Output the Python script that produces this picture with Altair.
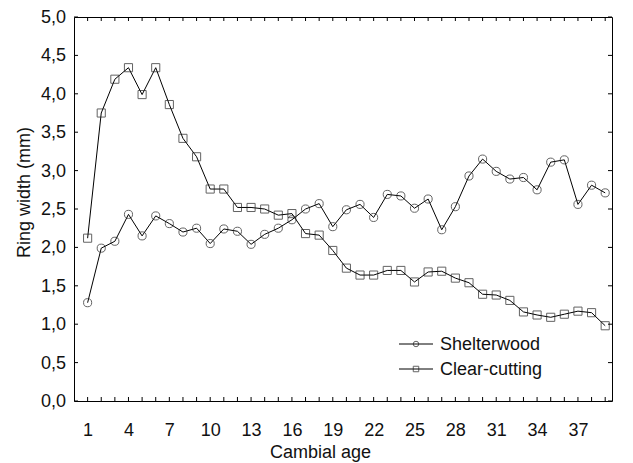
import altair as alt
import pandas as pd

# Mean ring width (mm) by cambial age for two silvicultural treatments
series_names = ["Shelterwood", "Clear-cutting"]
cambial_age = list(range(1, 40))
shelterwood = [1.28, 1.99, 2.08, 2.43, 2.15, 2.41, 2.31, 2.20, 2.25, 2.05,
               2.24, 2.21, 2.04, 2.17, 2.25, 2.36, 2.50, 2.57, 2.27, 2.49,
               2.56, 2.39, 2.69, 2.67, 2.51, 2.63, 2.23, 2.53, 2.93, 3.15,
               2.99, 2.89, 2.91, 2.75, 3.11, 3.14, 2.56, 2.81, 2.71]
clear_cutting = [2.12, 3.75, 4.19, 4.34, 3.99, 4.34, 3.86, 3.42, 3.18, 2.76,
                 2.76, 2.52, 2.52, 2.50, 2.42, 2.44, 2.18, 2.16, 1.96, 1.73,
                 1.64, 1.64, 1.70, 1.70, 1.55, 1.68, 1.69, 1.60, 1.54, 1.39,
                 1.38, 1.31, 1.16, 1.12, 1.09, 1.13, 1.17, 1.15, 0.98]

x_labels = list(range(1, 38, 3))
y_labels = [i * 0.5 for i in range(11)]
x_minor = list(range(1, 40))

W, H = 538, 384
FONT = "Liberation Sans"
INK = "#111111"

df = pd.DataFrame({
    "series": [series_names[0]] * len(cambial_age) + [series_names[1]] * len(cambial_age),
    "age": cambial_age + cambial_age,
    "width": shelterwood + clear_cutting,
})

x_scale = alt.Scale(domain=[0, 39.5], nice=False, zero=False)
y_scale = alt.Scale(domain=[0, 5], nice=False, zero=True)

x_enc = alt.X(
    "age:Q",
    scale=x_scale,
    axis=alt.Axis(
        values=x_labels, ticks=False, domain=False, grid=False,
        labelFontSize=18, labelPadding=20, labelColor=INK, labelOverlap=False,
        title="Cambial age", titleFontSize=18, titleFontWeight="normal",
        titleColor=INK, titleX=246, titleY=56, titleBaseline="alphabetic",
        titleAlign="center",
    ),
)
# Y tick labels are drawn as a text layer (decimal comma), the axis keeps the title
y_enc = alt.Y(
    "width:Q",
    scale=y_scale,
    axis=alt.Axis(
        labels=False, ticks=False, domain=False, grid=False,
        title="Ring width (mm)", titleFontSize=18, titleFontWeight="normal",
        titleColor=INK, titleAngle=270, titleX=-50, titleY=175,
        titleAlign="center", titleBaseline="middle",
    ),
)

base = alt.Chart(df)
lines = base.mark_line(color="black", strokeWidth=1).encode(
    x=x_enc, y=y_enc, detail="series:N"
)
points = base.mark_point(filled=False, size=66, strokeWidth=1, color="#222222").encode(
    x="age:Q",
    y="width:Q",
    shape=alt.Shape("series:N",
                    scale=alt.Scale(domain=series_names, range=["circle", "square"]),
                    legend=None),
)

# Inward-pointing tick marks on all four sides of the frame
xt = alt.Chart(pd.DataFrame({"age": x_minor}))
yt = alt.Chart(pd.DataFrame({"width": y_labels}))
tick_style = dict(color="black", strokeWidth=1)
ticks_bottom = xt.mark_rule(**tick_style).encode(x="age:Q", y=alt.value(H), y2=alt.value(H - 4))
ticks_top = xt.mark_rule(**tick_style).encode(x="age:Q", y=alt.value(0), y2=alt.value(4))
ticks_left = yt.mark_rule(**tick_style).encode(y="width:Q", x=alt.value(0), x2=alt.value(4))
ticks_right = yt.mark_rule(**tick_style).encode(y="width:Q", x=alt.value(W), x2=alt.value(W - 4))

y_tick_text = yt.transform_calculate(
    lab="replace(format(datum.width, '.1f'), '.', ',')"
).mark_text(align="right", baseline="middle", fontSize=18, color=INK, font=FONT, dx=-8, dy=1).encode(
    y="width:Q", x=alt.value(0), text="lab:N"
)

# Legend: line sample with a small marker, then the label
legend_layers = []
for i, (name, shp) in enumerate(zip(series_names, ["circle", "square"])):
    ly = 327 + 25 * i
    src = alt.Chart(pd.DataFrame({"series": [name]}))
    legend_layers.append(
        src.mark_rule(color="black", strokeWidth=1).encode(
            x=alt.value(325), x2=alt.value(359), y=alt.value(ly))
    )
    legend_layers.append(
        src.mark_point(filled=False, size=30, strokeWidth=1, color="#222222", shape=shp).encode(
            x=alt.value(342), y=alt.value(ly))
    )
    legend_layers.append(
        src.mark_text(align="left", baseline="middle", fontSize=18, color=INK, font=FONT).encode(
            x=alt.value(366), y=alt.value(ly + 1), text="series:N")
    )

chart = alt.layer(
    lines, points, ticks_bottom, ticks_top, ticks_left, ticks_right, y_tick_text, *legend_layers
).properties(
    width=W, height=H,
    autosize=alt.AutoSizeParams(type="none"),
    padding={"left": 74, "top": 17, "right": 21, "bottom": 62},
).configure(
    font=FONT, background="white"
).configure_view(
    stroke="black", strokeWidth=1
)

chart.save("out.html", embed_options={"renderer": "svg", "actions": False})
